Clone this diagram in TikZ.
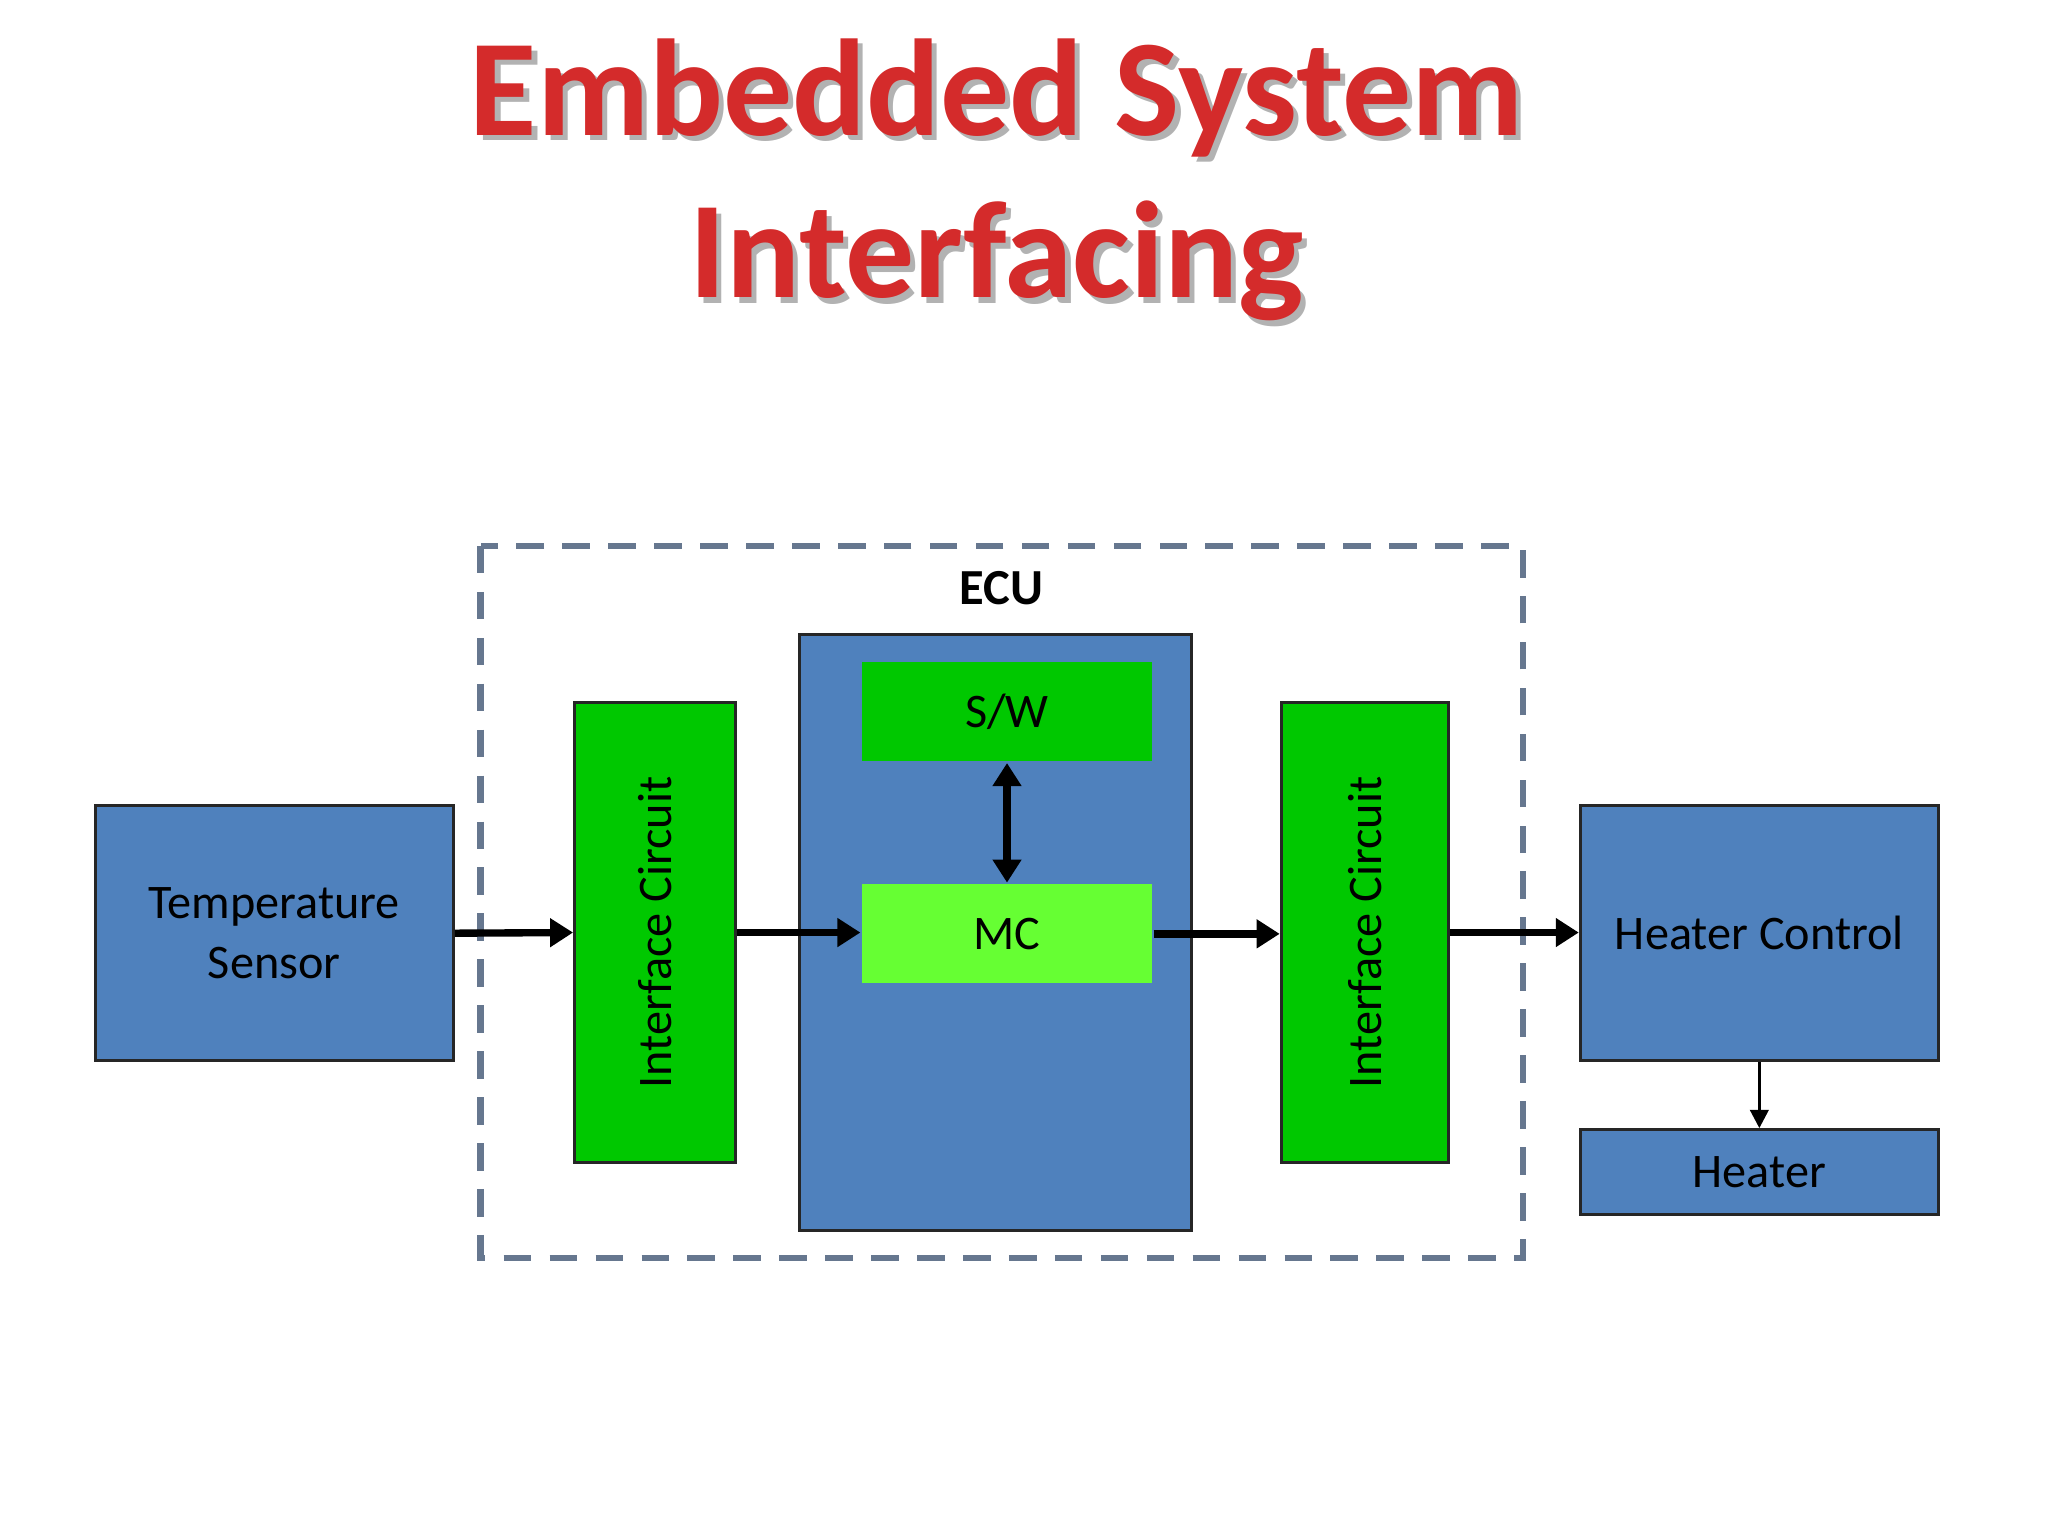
\documentclass[tikz,border=0pt]{standalone}
\usepackage{fontspec}
\setmainfont{Carlito}
\usetikzlibrary{arrows.meta}
\definecolor{bluebox}{HTML}{4F81BD}
\definecolor{greenbox}{HTML}{00C800}
\definecolor{lgreen}{HTML}{66FF33}
\definecolor{dashc}{HTML}{66778F}
\definecolor{titlered}{HTML}{D42B2B}
\tikzset{
  blk/.style={draw=black!85,line width=0.7pt,inner sep=0pt,align=center,font=\fontsize{10.5pt}{13pt}\selectfont},
  bluek/.style={blk,fill=bluebox},
  greenk/.style={blk,fill=greenbox},
  arr/.style={line width=1.6pt,-{Triangle[length=5pt,width=6pt]}},
  titlet/.style={font=\bfseries\fontsize{30pt}{36pt}\selectfont,text=titlered}
}
\newcommand{\pu}[1]{#1*0.01cm}
\begin{document}
\begin{tikzpicture}[x=0.01cm,y=0.01cm]
\useasboundingbox (0,0) rectangle (1568,1176);
% title
\node[titlet,text=black!30] at (767,1097) {Embedded System};
\node[titlet] (t1) at (763,1101) {Embedded System};
\node[titlet,text=black!30] at (767,972) {Interfacing};
\node[titlet] (t2) at (763,976) {Interfacing};
% ECU
\draw[dashc,line width=1.4pt,dash pattern=on 6pt off 4pt] (368,758) rectangle (1166,213);
\node[font=\bfseries\fontsize{11pt}{13pt}\selectfont] (ecu) at (767,726) {ECU};
\node[bluek,minimum width=\pu{274},minimum height=\pu{195}] (ts) at (210,461.5) {Temperature\\Sensor};
\node[greenk,minimum width=\pu{123},minimum height=\pu{352}] (ic1) at (501.5,462) {};
\node[rotate=90,font=\fontsize{10.5pt}{13pt}\selectfont] at (ic1.center) {Interface Circuit};
\node[bluek,minimum width=\pu{300},minimum height=\pu{456}] (mcb) at (762,462) {};
\node[blk,draw=none,fill=greenbox,minimum width=\pu{222},minimum height=\pu{76}] (sw) at (771,631) {S/W};
\node[blk,draw=none,fill=lgreen,minimum width=\pu{222},minimum height=\pu{76}] (mc) at (771,461) {MC};
\node[greenk,minimum width=\pu{128},minimum height=\pu{352}] (ic2) at (1045,462) {};
\node[rotate=90,font=\fontsize{10.5pt}{13pt}\selectfont] at (ic2.center) {Interface Circuit};
\node[bluek,minimum width=\pu{274},minimum height=\pu{195}] (hc) at (1347,461.5) {Heater Control};
\node[bluek,minimum width=\pu{274},minimum height=\pu{65}] (h) at (1347,278.5) {Heater};
% arrows
\draw[arr] (ts.east) -- (ic1.west);
\draw[arr] (ic1.east) -- (ic1.east -| mc.west);
\draw[arr] (mc.east) -- (mc.east -| ic2.west);
\draw[arr] (ic2.east) -- (ic2.east -| hc.west);
\draw[line width=1.6pt,{Triangle[length=5pt,width=6pt]}-{Triangle[length=5pt,width=6pt]}] (sw.south) -- (mc.north);
\draw[line width=0.7pt,-{Triangle[length=4pt,width=4pt]}] (hc.south) -- (h.north);
\end{tikzpicture}
\end{document}
